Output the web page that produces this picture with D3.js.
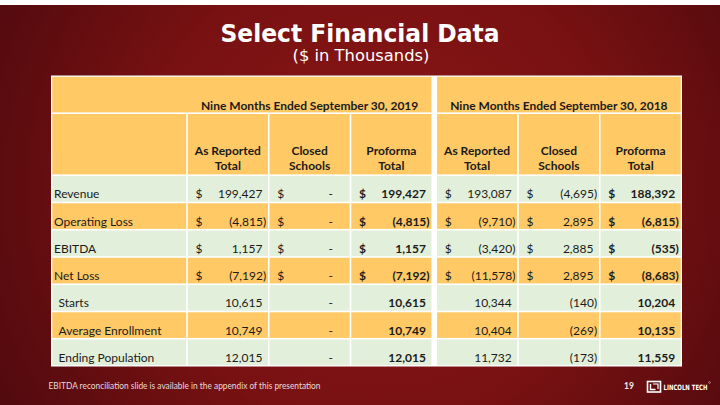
<!DOCTYPE html>
<html><head><meta charset="utf-8">
<script src="https://cdn.jsdelivr.net/npm/d3@7/dist/d3.min.js"></script>
<style>html,body{margin:0;padding:0;background:#fff;}svg{display:block;}</style>
</head><body>
<script>
const titleText = "Select Financial Data";
const subtitleText = "($ in Thousands)";
const footerText = "EBITDA reconciliation slide is available in the appendix of this presentation";
const pageNumber = "19";
const logoText = "LINCOLN TECH";
const periods = ["Nine Months Ended September 30, 2019", "Nine Months Ended September 30, 2018"];
const columnHeads = [["As Reported", "Total"], ["Closed", "Schools"], ["Proforma", "Total"]];
const rowLabels = ["Revenue", "Operating Loss", "EBITDA", "Net Loss", "Starts", "Average Enrollment", "Ending Population"];
const indentedRows = [false, false, false, false, true, true, true];
const dollarRows = [true, true, true, true, false, false, false];
const values2019 = [
  [199427, 0, 199427],
  [-4815, 0, -4815],
  [1157, 0, 1157],
  [-7192, 0, -7192],
  [10615, 0, 10615],
  [10749, 0, 10749],
  [12015, 0, 12015]
];
const values2018 = [
  [193087, -4695, 188392],
  [-9710, 2895, -6815],
  [-3420, 2885, -535],
  [-11578, 2895, -8683],
  [10344, -140, 10204],
  [10404, -269, 10135],
  [11732, -173, 11559]
];
const valuesByPeriod = [values2019, values2018];

const W = 720, H = 405;
const GREEN = "#e2efda", ORANGE = "#ffc966", INK = "#1b1b1b";
const FONT = "Lato, 'Open Sans', sans-serif";

const svg = d3.select("body").append("svg").attr("width", W).attr("height", H);
const defs = svg.append("defs");
const rg = defs.append("radialGradient").attr("id", "bg").attr("gradientUnits", "userSpaceOnUse")
  .attr("cx", 380).attr("cy", 190).attr("r", 430);
rg.append("stop").attr("offset", "0%").attr("stop-color", "#8c1616");
rg.append("stop").attr("offset", "55%").attr("stop-color", "#781112");
rg.append("stop").attr("offset", "100%").attr("stop-color", "#520a0e");

svg.append("rect").attr("width", W).attr("height", H).attr("fill", "#fff");
svg.append("rect").attr("y", 5).attr("width", W).attr("height", H - 5).attr("fill", "url(#bg)");

// Title
svg.append("text").attr("x", 360).attr("y", 42).attr("text-anchor", "middle")
  .attr("font-family", "'DejaVu Sans', Verdana, sans-serif").attr("font-weight", "bold")
  .attr("font-size", 24).attr("fill", "#fff").attr("textLength", 279).attr("lengthAdjust", "spacingAndGlyphs")
  .text(titleText);
svg.append("text").attr("x", 361).attr("y", 61).attr("text-anchor", "middle")
  .attr("font-family", "'DejaVu Sans', Verdana, sans-serif")
  .attr("font-size", 15).attr("fill", "#fff").attr("textLength", 137).attr("lengthAdjust", "spacingAndGlyphs")
  .text(subtitleText);

// Scales
const tableLeft = 51.5, labelRight = 187, tableRight = 681.5;
const yTop = 76, h1Bottom = 113.2, h2Bottom = 175.2, tableBottom = 366;
const group = d3.scaleBand().domain(d3.range(periods.length)).range([labelRight, tableRight]).paddingInner(0.0162);
const col = d3.scaleBand().domain(d3.range(columnHeads.length)).range([0, group.bandwidth()]);
const row = d3.scaleBand().domain(rowLabels).range([h2Bottom, tableBottom]);

const table = svg.append("g");
table.append("rect").attr("x", tableLeft - 0.5).attr("y", yTop - 0.5)
  .attr("width", tableRight - tableLeft + 1).attr("height", tableBottom - yTop + 1).attr("fill", "#fff");

const gap = 1.6;
function cell(x0, y0, x1, y1, fill) {
  table.append("rect").attr("x", x0 + gap / 2).attr("y", y0 + gap / 2)
    .attr("width", Math.max(0, x1 - x0 - gap)).attr("height", Math.max(0, y1 - y0 - gap)).attr("fill", fill);
}

// Header row 1
periods.forEach((p, gi) => {
  const gx = group(gi);
  const x0 = gi === 0 ? tableLeft : gx;
  cell(x0, yTop, gx + group.bandwidth(), h1Bottom, ORANGE);
  table.append("text").attr("x", gx + group.bandwidth() / 2).attr("y", 109.5)
    .attr("text-anchor", "middle").attr("font-family", FONT).attr("font-weight", "bold")
    .attr("font-size", 12).attr("fill", INK).text(p);
});

// Header row 2
cell(tableLeft, h1Bottom, labelRight, h2Bottom, ORANGE);
periods.forEach((p, gi) => {
  columnHeads.forEach((lines, ci) => {
    const x0 = group(gi) + col(ci);
    cell(x0, h1Bottom, x0 + col.bandwidth(), h2Bottom, ORANGE);
    lines.forEach((ln, li) => {
      table.append("text").attr("x", x0 + col.bandwidth() / 2).attr("y", 154.5 + li * 15.8)
        .attr("text-anchor", "middle").attr("font-family", FONT).attr("font-weight", "bold")
        .attr("font-size", 12).attr("fill", INK).text(ln);
    });
  });
});

const fmt = d3.format(",");
rowLabels.forEach((lab, ri) => {
  const y0 = row(lab), y1 = y0 + row.bandwidth();
  const fill = ri % 2 === 0 ? GREEN : ORANGE;
  const base = y1 - 4.2;
  cell(tableLeft, y0, labelRight, y1, fill);
  table.append("text").attr("x", indentedRows[ri] ? 58.5 : 54).attr("y", base)
    .attr("font-family", FONT).attr("font-size", 12).attr("fill", INK).text(lab);
  valuesByPeriod.forEach((vals, gi) => {
    columnHeads.forEach((h, ci) => {
      const x0 = group(gi) + col(ci), x1 = x0 + col.bandwidth();
      cell(x0, y0, x1, y1, fill);
      const bold = ci === 2;
      const v = vals[ri][ci];
      if (dollarRows[ri]) {
        table.append("text").attr("x", x0 + 8.5).attr("y", base)
          .attr("font-family", FONT).attr("font-size", 12).attr("font-weight", bold ? "bold" : "normal")
          .attr("fill", INK).text("$");
      }
      let s, xr;
      if (v === 0) { s = "-"; xr = x1 - 17.5; }
      else if (v < 0) { s = "(" + fmt(-v) + ")"; xr = x1 - 2.6; }
      else { s = fmt(v); xr = x1 - 6.3; }
      table.append("text").attr("x", xr).attr("y", base).attr("text-anchor", "end")
        .attr("font-family", FONT).attr("font-size", 12).attr("font-weight", bold ? "bold" : "normal")
        .attr("fill", INK).text(s);
    });
  });
});

// Footer
svg.append("text").attr("x", 48.5).attr("y", 389).attr("font-family", FONT).attr("font-size", 8.5)
  .attr("fill", "#eadada").attr("textLength", 272).attr("lengthAdjust", "spacingAndGlyphs").text(footerText);
svg.append("text").attr("x", 629).attr("y", 389).attr("text-anchor", "middle").attr("font-family", FONT)
  .attr("font-weight", "bold").attr("font-size", 8.5).attr("fill", "#f4eaea").text(pageNumber);

// Logo
const logo = svg.append("g").attr("fill", "none").attr("stroke", "#fff");
logo.append("rect").attr("x", 647.5).attr("y", 381.5).attr("width", 13).attr("height", 10.5).attr("stroke-width", 1.6);
logo.append("path").attr("d", "M650.5,384 V389.5 H655.5").attr("stroke-width", 1.4);
logo.append("path").attr("d", "M653,384 H658 V389").attr("stroke-width", 1.2);
logo.append("circle").attr("cx", 709.5).attr("cy", 382.5).attr("r", 0.9).attr("stroke-width", 0.4);
svg.append("text").attr("x", 663.5).attr("y", 390).attr("font-family", "'Liberation Sans Narrow', 'DejaVu Sans Condensed', sans-serif")
  .attr("font-weight", "bold").attr("font-size", 7.3).attr("fill", "#fff").attr("textLength", 44).attr("lengthAdjust", "spacingAndGlyphs")
  .text(logoText);
</script>
</body></html>
